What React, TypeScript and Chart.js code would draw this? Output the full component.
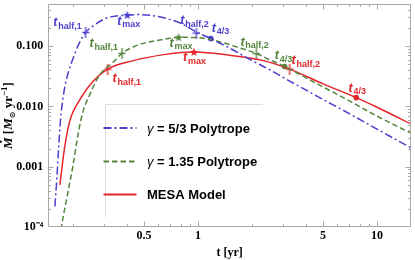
import React, { useEffect, useRef } from "react";
import { Chart, registerables } from "chart.js";

Chart.register(...registerables);

// ---------- data ----------
const blueT = [0.159, 0.163, 0.167, 0.171, 0.176, 0.181, 0.19, 0.201, 0.215, 0.236, 0.265, 0.307, 0.35, 0.403, 0.47, 0.55, 0.66, 0.8, 0.98, 1.18, 1.5, 2.0, 2.5, 3.0, 4.0, 5.0, 7.0, 10.0, 15.5];
const blueM = [2.2e-4, 6.5e-4, 0.0022, 0.0062, 0.013, 0.022, 0.039, 0.063, 0.105, 0.169, 0.225, 0.29, 0.315, 0.327, 0.334, 0.322, 0.29, 0.24, 0.172, 0.133, 0.093, 0.058, 0.041, 0.03, 0.0188, 0.013, 0.0076, 0.0042, 0.00205];

const greenT = [0.17, 0.173, 0.186, 0.2, 0.216, 0.228, 0.248, 0.281, 0.334, 0.377, 0.47, 0.66, 0.78, 1.0, 1.3, 1.7, 2.12, 2.5, 3.05, 4.0, 5.0, 7.0, 10.0, 15.5];
const greenM = [6.5e-5, 1.0e-4, 3.2e-4, 1.0e-3, 0.004, 0.0082, 0.0153, 0.0324, 0.053, 0.076, 0.106, 0.131, 0.14, 0.138, 0.12, 0.094, 0.076, 0.06, 0.046, 0.03, 0.021, 0.0124, 0.0069, 0.0036];

const redT = [0.1695, 0.175, 0.181, 0.192, 0.201, 0.21, 0.248, 0.313, 0.431, 0.66, 0.95, 1.54, 2.36, 3.25, 5.0, 7.65, 10.0, 15.5];
const redM = [5.0e-4, 1.1e-3, 2.3e-3, 5.6e-3, 8.2e-3, 0.0105, 0.0222, 0.0415, 0.057, 0.073, 0.08, 0.07, 0.057, 0.0415, 0.0237, 0.014, 0.0097, 0.0051];

const markerSubs = ["half,1", "max", "half,2", "4/3"];
const blueMarkT = [0.236, 0.403, 0.98, 1.18];
const blueMarkM = [0.169, 0.327, 0.165, 0.133];
const greenMarkT = [0.377, 0.78, 2.12, 3.05];
const greenMarkM = [0.076, 0.14, 0.075, 0.046];
const redMarkT = [0.313, 0.95, 3.25, 7.65];
const redMarkM = [0.0415, 0.08, 0.0415, 0.014];

const xTicks = [0.5, 1, 5, 10];
const xTickLabels = ["0.5", "1", "5", "10"];
const yTicks = [1e-4, 1e-3, 1e-2, 1e-1];
const yTickLabels = ["10\u207B\u2074", "0.001", "0.010", "0.100"];
const xMinor = [0.2, 0.3, 0.4, 0.6, 0.7, 0.8, 0.9, 2, 3, 4, 6, 7, 8, 9];
const yMinorMult = [2, 3, 4, 5, 6, 7, 8, 9];
const yDecades = [1e-4, 1e-3, 1e-2, 1e-1];

const legendLabels = ["\u03B3 = 5/3 Polytrope", "\u03B3 = 1.35 Polytrope", "MESA Model"];
const xTitle = "t [yr]";

// ---------- styles ----------
const BLUE = "#4a3fcb";
const GREEN = "#53853b";
const RED = "#e3262b";
const FRAME = "#a8a8a8";
const SERIF = '"Liberation Serif", "Times New Roman", serif';
const SANS = '"Liberation Sans", Arial, sans-serif';

// label offsets relative to marker pixel: [dx, dy, align]
const blueLabelOff: [number, number, string][] = [[-4, -6, "right"], [-10, 9.5, "left"], [-16, -9, "left"], [1, -7, "left"]];
const greenLabelOff: [number, number, string][] = [[-4, -6, "right"], [-9, 9.5, "left"], [-16, -8, "left"], [-10, -7, "left"]];
const redLabelOff: [number, number, string][] = [[5, 13, "left"], [-11, 9.5, "left"], [2, -5, "left"], [-7.6, -6, "left"]];

function pts(t: number[], m: number[]) {
  return t.map((v, i) => ({ x: v, y: m[i] }));
}

function makeCross(color: string) {
  const c = document.createElement("canvas");
  c.width = 8;
  c.height = 11;
  const g = c.getContext("2d")!;
  g.strokeStyle = color;
  g.lineWidth = 1.3;
  g.beginPath();
  g.moveTo(4, 0);
  g.lineTo(4, 11);
  g.moveTo(0.5, 5.5);
  g.lineTo(7.5, 5.5);
  g.stroke();
  return c;
}

function makeStar(color: string) {
  const c = document.createElement("canvas");
  c.width = 10;
  c.height = 10;
  const g = c.getContext("2d")!;
  g.fillStyle = color;
  g.beginPath();
  for (let i = 0; i < 10; i++) {
    const r = i % 2 === 0 ? 4.6 : 1.9;
    const a = -Math.PI / 2 + (i * Math.PI) / 5;
    g.lineTo(5 + r * Math.cos(a), 5.4 + r * Math.sin(a));
  }
  g.closePath();
  g.fill();
  return c;
}

function drawTLabel(ctx: CanvasRenderingContext2D, x: number, y: number, sub: string, color: string, align: string) {
  const fT = `italic bold 12.5px ${SANS}`;
  const fS = `bold 9px ${SANS}`;
  ctx.font = fT;
  const wT = ctx.measureText("t").width;
  ctx.font = fS;
  const wS = ctx.measureText(sub).width;
  const total = wT + 0.8 + wS;
  const left = align === "right" ? x - total : x;
  ctx.fillStyle = color;
  ctx.textAlign = "left";
  ctx.textBaseline = "alphabetic";
  ctx.font = fT;
  ctx.fillText("t", left, y);
  ctx.font = fS;
  ctx.fillText(sub, left + wT + 0.8, y + 2.5);
}

const labelsPlugin = {
  id: "markerLabels",
  afterDatasetsDraw(chart: any) {
    const { ctx, scales } = chart;
    const groups: [number[], number[], [number, number, string][], string][] = [
      [blueMarkT, blueMarkM, blueLabelOff, BLUE],
      [greenMarkT, greenMarkM, greenLabelOff, GREEN],
      [redMarkT, redMarkM, redLabelOff, RED],
    ];
    ctx.save();
    for (const [ts, ms, offs, col] of groups) {
      ts.forEach((t, i) => {
        const px = scales.x.getPixelForValue(t);
        const py = scales.y.getPixelForValue(ms[i]);
        const [dx, dy, al] = offs[i];
        drawTLabel(ctx, px + dx, py + dy, markerSubs[i], col, al);
      });
    }
    ctx.restore();
  },
};

const legendPlugin = {
  id: "innerLegend",
  afterDatasetsDraw(chart: any) {
    const { ctx, chartArea: ca } = chart;
    const bx = ca.left + 56.7;
    const by = ca.top + 99.5;
    const bw = 158;
    const bh = 113;
    ctx.save();
    ctx.fillStyle = "#ffffff";
    ctx.fillRect(bx, by, bw, bh);
    ctx.strokeStyle = "#dcdcdc";
    ctx.lineWidth = 1;
    ctx.beginPath();
    ctx.moveTo(Math.round(bx) + 0.5, Math.round(by + bh));
    ctx.lineTo(Math.round(bx) + 0.5, Math.round(by) + 0.5);
    ctx.lineTo(Math.round(bx + bw), Math.round(by) + 0.5);
    ctx.stroke();
    const rows = [24.5, 58, 91];
    const cols = [BLUE, GREEN, RED];
    const dashes = [[8, 3, 2, 3], [5.5, 3], []];
    legendLabels.forEach((lab, i) => {
      const yy = by + rows[i];
      ctx.strokeStyle = cols[i];
      ctx.lineWidth = 2;
      ctx.setLineDash(dashes[i]);
      ctx.beginPath();
      ctx.moveTo(bx - 1.5, yy);
      ctx.lineTo(bx + 31.5, yy);
      ctx.stroke();
      ctx.setLineDash([]);
      ctx.fillStyle = "#000";
      ctx.textBaseline = "middle";
      ctx.textAlign = "left";
      let tx = bx + 42;
      let rest = lab;
      if (lab.startsWith("\u03B3")) {
        ctx.font = `italic 13px ${SANS}`;
        ctx.fillText("\u03B3", tx, yy + 1);
        tx += ctx.measureText("\u03B3").width;
        rest = lab.slice(1);
      }
      ctx.font = `bold 13px ${SANS}`;
      ctx.fillText(rest, tx, yy + 1);
    });
    ctx.restore();
  },
};

const framePlugin = {
  id: "frameTicks",
  afterDraw(chart: any) {
    const { ctx, chartArea: ca, scales } = chart;
    const L = Math.round(ca.left) + 0.5;
    const R = Math.round(ca.right) - 0.5;
    const T = Math.round(ca.top) + 0.5;
    const B = Math.round(ca.bottom) - 0.5;
    ctx.save();
    ctx.strokeStyle = FRAME;
    ctx.lineWidth = 1;
    ctx.beginPath();
    ctx.rect(L, T, R - L, B - T);
    const xt = (v: number, len: number) => {
      const p = Math.round(scales.x.getPixelForValue(v)) + 0.5;
      if (p < L || p > R) return;
      ctx.moveTo(p, B);
      ctx.lineTo(p, B - len);
      ctx.moveTo(p, T);
      ctx.lineTo(p, T + len);
    };
    const yt = (v: number, len: number) => {
      const p = Math.round(scales.y.getPixelForValue(v)) + 0.5;
      if (p < T || p > B) return;
      ctx.moveTo(L, p);
      ctx.lineTo(L + len, p);
      ctx.moveTo(R, p);
      ctx.lineTo(R - len, p);
    };
    xTicks.forEach((v) => xt(v, 5));
    xMinor.forEach((v) => xt(v, 2.5));
    yTicks.forEach((v) => yt(v, 5));
    yDecades.forEach((d) => yMinorMult.forEach((m) => yt(d * m, 2.5)));
    ctx.stroke();

    // y-axis title: M-dot [M_sun yr^-1]
    ctx.translate(7.5, (ca.top + ca.bottom) / 2);
    ctx.rotate(-Math.PI / 2);
    ctx.fillStyle = "#000";
    ctx.textBaseline = "alphabetic";
    ctx.textAlign = "left";
    const parts: [string, string, number][] = [
      ["M", `italic bold 13px ${SERIF}`, 0],
      [" [", `bold 13px ${SERIF}`, 0],
      ["M", `italic bold 13px ${SERIF}`, 0],
      ["\u2299", `bold 8px "DejaVu Sans", sans-serif`, 2.5],
      [" yr", `bold 13px ${SERIF}`, 0],
      ["\u22121", `bold 9px ${SERIF}`, -5],
      ["]", `bold 13px ${SERIF}`, 0],
    ];
    let total = 0;
    const widths = parts.map(([s, f]) => {
      ctx.font = f;
      const w = ctx.measureText(s).width;
      total += w;
      return w;
    });
    let cx = -total / 2;
    const base = 4.5;
    parts.forEach(([s, f, dy], i) => {
      ctx.font = f;
      ctx.fillText(s, cx, base + dy);
      if (i === 0) {
        ctx.beginPath();
        ctx.arc(cx + widths[0] / 2 + 1.5, base - 11.2, 1.1, 0, Math.PI * 2);
        ctx.fill();
      }
      cx += widths[i];
    });
    ctx.restore();
  },
};

const zeroPad = (s: any) => {
  s.paddingTop = 0;
  s.paddingBottom = 0;
  s.paddingLeft = 0;
  s.paddingRight = 0;
};

export default function App() {
  const ref = useRef<HTMLCanvasElement | null>(null);

  useEffect(() => {
    document.body.style.margin = "0";
    const canvas = ref.current!;
    const curve = (t: number[], m: number[], color: string, dash: number[]) => ({
      data: pts(t, m),
      borderColor: color,
      backgroundColor: color,
      borderWidth: 1.5,
      borderDash: dash,
      pointRadius: 0,
      cubicInterpolationMode: "monotone",
      fill: false,
      clip: 0,
    });
    const marks = (t: number[], m: number[], color: string) => {
      const cross = makeCross(color);
      const star = makeStar(color);
      return {
        data: pts(t, m),
        showLine: false,
        borderColor: color,
        backgroundColor: color,
        pointStyle: [cross, star, cross, "circle"],
        pointRadius: [4, 4, 4, 2.8],
        pointBorderWidth: 0,
        clip: false,
      };
    };
    const tickFont = { family: SERIF, weight: "bold", size: 12 };
    const chart = new Chart(canvas, {
      type: "line",
      data: {
        datasets: [
          curve(blueT, blueM, BLUE, [8, 3, 2, 3]),
          curve(greenT, greenM, GREEN, [5.5, 3]),
          curve(redT, redM, RED, []),
          marks(blueMarkT, blueMarkM, BLUE),
          marks(greenMarkT, greenMarkM, GREEN),
          marks(redMarkT, redMarkM, RED),
        ] as any,
      },
      options: {
        animation: false,
        responsive: false,
        devicePixelRatio: 1,
        layout: { padding: { top: 0.5, right: 0.7, left: 0, bottom: 0 } },
        plugins: { legend: { display: false }, tooltip: { enabled: false } },
        scales: {
          x: {
            type: "logarithmic",
            min: 0.146,
            max: 15.48,
            afterBuildTicks: (s: any) => {
              s.ticks = xTicks.map((v) => ({ value: v }));
            },
            afterFit: (s: any) => {
              s.height = 33;
              zeroPad(s);
            },
            grid: { display: false, drawTicks: false },
            border: { display: false },
            ticks: {
              autoSkip: false,
              maxRotation: 0,
              padding: 1.5,
              color: "#000",
              font: tickFont,
              callback: (_v: any, i: number) => xTickLabels[i],
            },
            title: {
              display: true,
              text: xTitle,
              color: "#000",
              font: { family: SERIF, weight: "bold", size: 12 },
              padding: { top: 0, bottom: 0 },
            },
          },
          y: {
            type: "logarithmic",
            min: 1e-4,
            max: 0.5,
            afterBuildTicks: (s: any) => {
              s.ticks = yTicks.map((v) => ({ value: v }));
            },
            afterFit: (s: any) => {
              s.width = 48.3;
              zeroPad(s);
            },
            grid: { display: false, drawTicks: false },
            border: { display: false },
            ticks: {
              autoSkip: false,
              padding: 5,
              color: "#000",
              font: tickFont,
              callback: (_v: any, i: number) => yTickLabels[i],
            },
          },
        },
      } as any,
      plugins: [legendPlugin, labelsPlugin, framePlugin],
    });
    return () => chart.destroy();
  }, []);

  return (
    <div style={{ position: "fixed", left: 0, top: 0, width: 415, height: 260, background: "#fff" }}>
      <canvas ref={ref} width={415} height={260} style={{ width: 415, height: 260, display: "block" }} />
    </div>
  );
}
